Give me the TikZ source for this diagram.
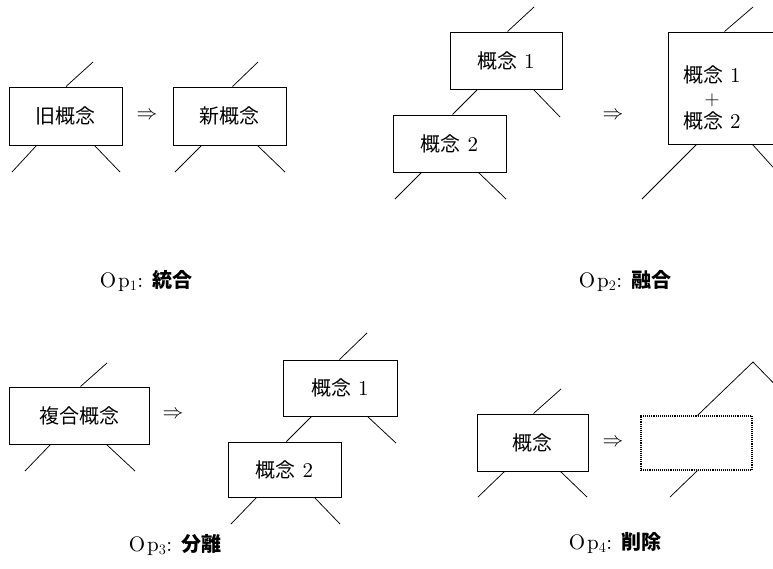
\documentclass[tikz,border=0pt]{standalone}
\usepackage{fontspec}
\setmainfont{lmroman10-regular}[Extension=.otf]
\newfontfamily\jp{Noto Sans CJK JP}
\newcommand{\dg}[1]{{\fontsize{21}{24}\selectfont #1}}
\newcommand{\oplab}[2]{O\kern2pt p$_{#1}$:\kern9pt{\fontsize{20}{24}\selectfont\jp\bfseries #2}}
\tikzset{
  cbox/.style={draw, line width=1pt, inner sep=0pt, font=\fontsize{20}{24}\selectfont},
  dbox/.style={draw, line width=1.1pt, densely dotted, inner sep=0pt},
  link/.style={line width=0.75pt},
  impl/.style={font=\fontsize{21}{24}\selectfont},
  oplabel/.style={font=\fontsize{21}{24}\selectfont}
}
\begin{document}
\begin{tikzpicture}[x=1pt,y=-1pt]
\useasboundingbox (0,0) rectangle (773,568);
\clip (0,0) rectangle (773,568);
% ---------- Op1
\node[cbox, minimum width=113pt, minimum height=58pt] (o1a) at (65.5,116) {\jp 旧概念};
\node[cbox, minimum width=113pt, minimum height=58pt] (o1b) at (229.5,116) {\jp 新概念};
\node[impl] (ar1) at (147,116) {$\Rightarrow$};
\coordinate (o1a1) at (93,62); \coordinate (o1a2) at (12,172); \coordinate (o1a3) at (120,172);
\coordinate (o1b1) at (258,62); \coordinate (o1b2) at (175,172); \coordinate (o1b3) at (285,172);
\draw[link] ([xshift=57.5pt]o1a.north west) -- (o1a1);
\draw[link] ([xshift=28pt]o1a.south west) -- (o1a2);
\draw[link] ([xshift=86pt]o1a.south west) -- (o1a3);
\draw[link] ([xshift=60pt]o1b.north west) -- (o1b1);
\draw[link] ([xshift=29pt]o1b.south west) -- (o1b2);
\draw[link] ([xshift=85pt]o1b.south west) -- (o1b3);
\node[oplabel] (l1) at (146,281) {\oplab{1}{統合}};
% ---------- Op2
\node[cbox, minimum width=112pt, minimum height=57pt] (o2a) at (506,60.5) {{\jp 概念} \dg{1}};
\node[cbox, minimum width=113pt, minimum height=57pt] (o2b) at (449.5,143.5) {{\jp 概念} \dg{2}};
\node[impl] (ar2) at (613,116) {$\Rightarrow$};
\node[draw, line width=1pt, minimum width=114pt, minimum height=112pt, inner sep=0pt] (o2c) at (725,88) {};
\node[font=\fontsize{20}{24}\selectfont, align=center, inner sep=0pt] (o2t) at (712,97.5) {{\jp 概念} \dg{1}\\[-1pt]\dg{$+$}\\[-1pt]{\jp 概念} \dg{2}};
\coordinate (o2a1) at (534,7); \coordinate (o2a3) at (560,117);
\coordinate (o2b2) at (395,199); \coordinate (o2b3) at (506,199);
\coordinate (o2c1) at (753,7); \coordinate (o2c2) at (642,199); \coordinate (o2c3) at (790,186);
\draw[link] ([xshift=58pt]o2a.north west) -- (o2a1);
\draw[link] ([xshift=28pt]o2a.south west) -- ([xshift=60pt]o2b.north west);
\draw[link] ([xshift=84pt]o2a.south west) -- (o2a3);
\draw[link] ([xshift=29pt]o2b.south west) -- (o2b2);
\draw[link] ([xshift=86pt]o2b.south west) -- (o2b3);
\draw[link] ([xshift=57pt]o2c.north west) -- (o2c1);
\draw[link] ([xshift=29pt]o2c.south west) -- (o2c2);
\draw[link] ([xshift=85pt]o2c.south west) -- (o2c3);
\node[oplabel] (l2) at (625,281) {\oplab{2}{融合}};
% ---------- Op3
\node[cbox, minimum width=140pt, minimum height=57pt] (o3a) at (79,415.5) {\jp 複合概念};
\node[impl] (ar3) at (173,415) {$\Rightarrow$};
\node[cbox, minimum width=114pt, minimum height=56pt] (o3b) at (340,388) {{\jp 概念} \dg{1}};
\node[cbox, minimum width=113pt, minimum height=55pt] (o3c) at (284.5,469.5) {{\jp 概念} \dg{2}};
\coordinate (o3a1) at (107,363); \coordinate (o3a2) at (25,471); \coordinate (o3a3) at (135,471);
\coordinate (o3b1) at (367,333); \coordinate (o3b3) at (396,443);
\coordinate (o3c2) at (231,524); \coordinate (o3c3) at (340,524);
\draw[link] ([xshift=72pt]o3a.north west) -- (o3a1);
\draw[link] ([xshift=42pt]o3a.south west) -- (o3a2);
\draw[link] ([xshift=98pt]o3a.south west) -- (o3a3);
\draw[link] ([xshift=57pt]o3b.north west) -- (o3b1);
\draw[link] ([xshift=29pt]o3b.south west) -- ([xshift=59pt]o3c.north west);
\draw[link] ([xshift=85pt]o3b.south west) -- (o3b3);
\draw[link] ([xshift=29pt]o3c.south west) -- (o3c2);
\draw[link] ([xshift=87pt]o3c.south west) -- (o3c3);
\node[oplabel] (l3) at (175,545) {\oplab{3}{分離}};
% ---------- Op4
\node[cbox, minimum width=111pt, minimum height=57pt] (o4a) at (532.5,442.5) {\jp 概念};
\node[impl] (ar4) at (613,443) {$\Rightarrow$};
\node[dbox, minimum width=111pt, minimum height=54pt] (o4b) at (696.5,443) {};
\coordinate (o4a1) at (561,389); \coordinate (o4a2) at (478,497); \coordinate (o4a3) at (587,497);
\coordinate (o4peak) at (753,362); \coordinate (o4r) at (790,400);
\coordinate (o4b2) at (670,497);
\draw[link] ([xshift=57pt]o4a.north west) -- (o4a1);
\draw[link] ([xshift=28pt]o4a.south west) -- (o4a2);
\draw[link] ([xshift=84pt]o4a.south west) -- (o4a3);
\draw[link] ([xshift=57pt]o4b.north west) -- (o4peak) -- (o4r);
\draw[link] ([xshift=57pt]o4b.south west) -- (o4b2);
\node[oplabel] (l4) at (615,543) {\oplab{4}{削除}};
\end{tikzpicture}
\end{document}
